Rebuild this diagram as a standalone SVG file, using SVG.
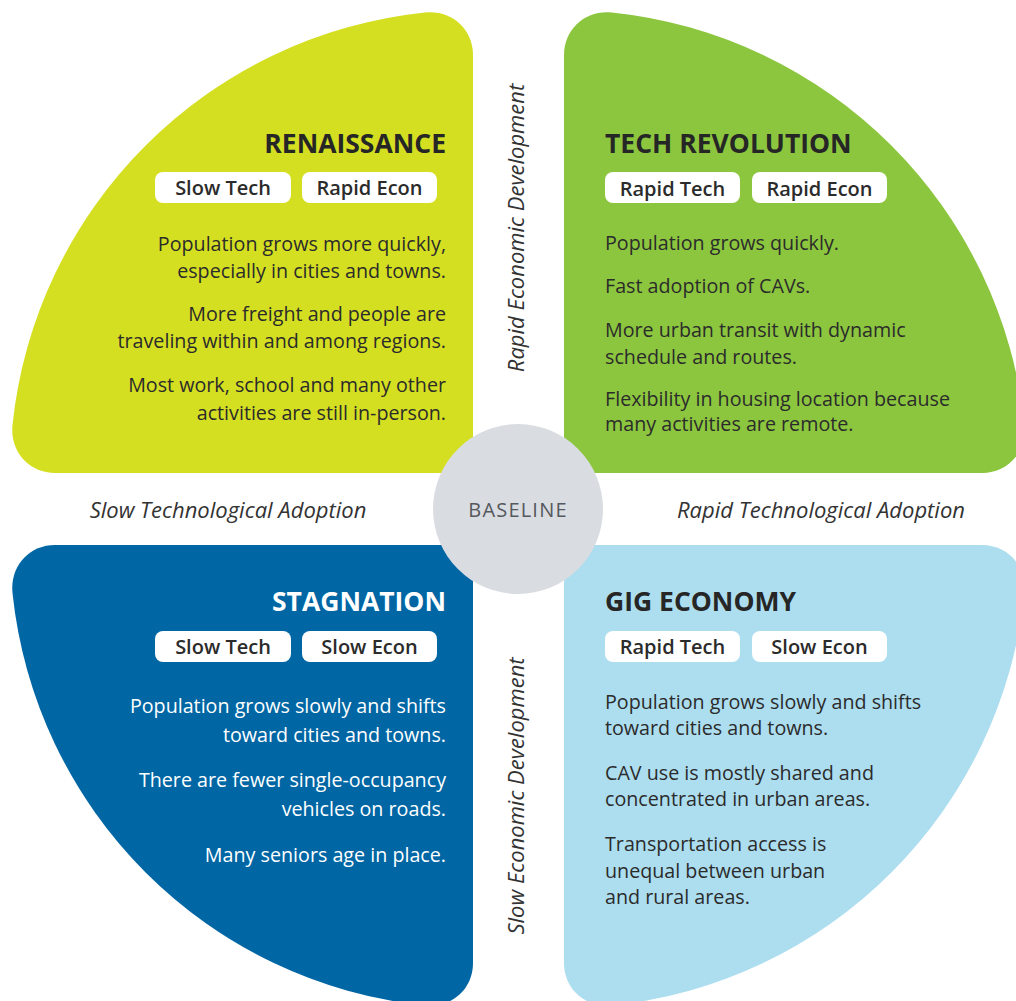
<svg xmlns="http://www.w3.org/2000/svg" width="1016" height="1001" viewBox="0 0 1016 1001">
<defs>
<path id="quad" d="M0,0 L0,-418 C0,-444.1 -21.6,-463.25 -48,-460.5 A463,463 0 0 0 -460.5,-48 C-463.25,-21.6 -444.1,0 -418,0 Z"/>
</defs>
<style>
text{font-family:"Open Sans","Noto Sans","Liberation Sans",sans-serif;}
.title{font-size:26.5px;font-weight:700;fill:#262626;}
.pill{fill:#ffffff;}
.ptxt{font-size:20px;font-weight:600;fill:#2b2b2b;text-anchor:middle;}
.body{font-size:19.7px;fill:#2b2b2b;}
.w{fill:#ffffff;}
.end{text-anchor:end;}
.axis{font-size:22px;font-style:italic;font-weight:500;fill:#333333;text-anchor:middle;}
</style>
<rect width="1016" height="1001" fill="#ffffff"/>

<g id="renaissance">
<use href="#quad" transform="translate(473,473)" fill="#d5df22"/>
<text class="title end" x="446" y="153">RENAISSANCE</text>
<rect class="pill" x="155" y="172" width="136" height="31" rx="8"/>
<rect class="pill" x="302" y="172" width="135" height="31" rx="8"/>
<text class="ptxt" x="223" y="195">Slow Tech</text>
<text class="ptxt" x="369.5" y="195">Rapid Econ</text>
<text class="body end" x="446" y="251">Population grows more quickly,</text>
<text class="body end" x="446" y="278">especially in cities and towns.</text>
<text class="body end" x="446" y="321">More freight and people are</text>
<text class="body end" x="446" y="348">traveling within and among regions.</text>
<text class="body end" x="446" y="392">Most work, school and many other</text>
<text class="body end" x="446" y="420">activities are still in-person.</text>
</g>

<g id="tech-revolution">
<use href="#quad" transform="translate(564,473) scale(-1,1)" fill="#8cc63f"/>
<text class="title" x="605" y="153">TECH REVOLUTION</text>
<rect class="pill" x="605" y="172" width="135" height="31" rx="8"/>
<rect class="pill" x="752" y="172" width="135" height="31" rx="8"/>
<text class="ptxt" x="672.5" y="195.5">Rapid Tech</text>
<text class="ptxt" x="819.5" y="195.5">Rapid Econ</text>
<text class="body" x="605" y="250">Population grows quickly.</text>
<text class="body" x="605" y="293">Fast adoption of CAVs.</text>
<text class="body" x="605" y="337">More urban transit with dynamic</text>
<text class="body" x="605" y="364">schedule and routes.</text>
<text class="body" x="605" y="406">Flexibility in housing location because</text>
<text class="body" x="605" y="431">many activities are remote.</text>
</g>

<g id="stagnation">
<use href="#quad" transform="translate(473,545) scale(1,-1)" fill="#0066a4"/>
<text class="title end w" x="446" y="611">STAGNATION</text>
<rect class="pill" x="155" y="631" width="136" height="31" rx="8"/>
<rect class="pill" x="302" y="631" width="135" height="31" rx="8"/>
<text class="ptxt" x="223" y="654">Slow Tech</text>
<text class="ptxt" x="369.5" y="654">Slow Econ</text>
<text class="body end w" x="446" y="713">Population grows slowly and shifts</text>
<text class="body end w" x="446" y="742">toward cities and towns.</text>
<text class="body end w" x="446" y="787">There are fewer single-occupancy</text>
<text class="body end w" x="446" y="816">vehicles on roads.</text>
<text class="body end w" x="446" y="862">Many seniors age in place.</text>
</g>

<g id="gig-economy">
<use href="#quad" transform="translate(564,545) scale(-1,-1)" fill="#addeef"/>
<text class="title" x="605" y="611">GIG ECONOMY</text>
<rect class="pill" x="605" y="631" width="135" height="31" rx="8"/>
<rect class="pill" x="752" y="631" width="135" height="31" rx="8"/>
<text class="ptxt" x="672.5" y="654">Rapid Tech</text>
<text class="ptxt" x="819.5" y="654">Slow Econ</text>
<text class="body" x="605" y="709">Population grows slowly and shifts</text>
<text class="body" x="605" y="735">toward cities and towns.</text>
<text class="body" x="605" y="780">CAV use is mostly shared and</text>
<text class="body" x="605" y="806">concentrated in urban areas.</text>
<text class="body" x="605" y="851">Transportation access is</text>
<text class="body" x="605" y="878">unequal between urban</text>
<text class="body" x="605" y="904">and rural areas.</text>
</g>

<g id="baseline">
<circle cx="518" cy="509" r="85" fill="#d9dce1"/>
<text x="518" y="517" font-size="20" letter-spacing="1.2" fill="#55585d" text-anchor="middle">BASELINE</text>
</g>

<g id="axes">
<text class="axis" transform="translate(524,228) rotate(-90)">Rapid Economic Development</text>
<text class="axis" transform="translate(524,796) rotate(-90)">Slow Economic Development</text>
<text class="axis" x="228" y="518">Slow Technological Adoption</text>
<text class="axis" x="821" y="518">Rapid Technological Adoption</text>
</g>

<g id="connectors"></g>
</svg>
